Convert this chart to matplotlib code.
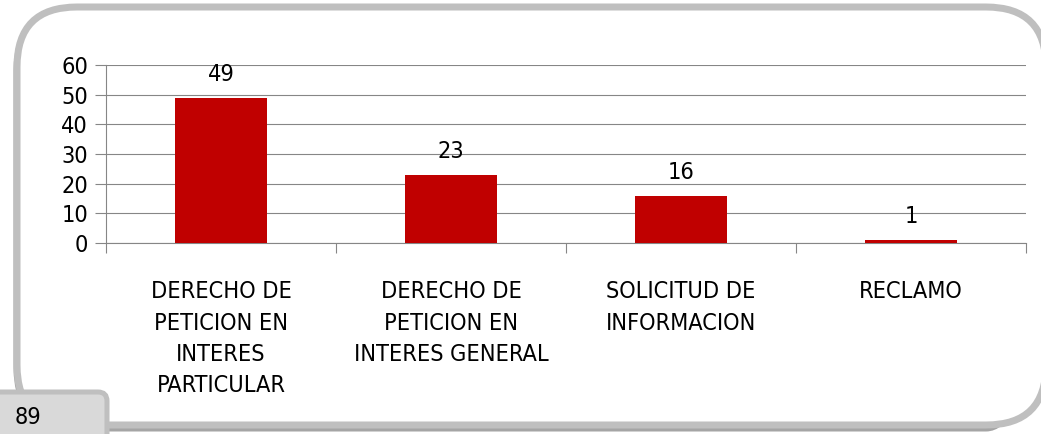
import matplotlib
matplotlib.use("Agg")
import matplotlib.pyplot as plt
from matplotlib.patches import FancyBboxPatch

categorias = ['DERECHO DE\nPETICION EN\nINTERES\nPARTICULAR',
              'DERECHO DE\nPETICION EN\nINTERES GENERAL',
              'SOLICITUD DE\nINFORMACION',
              'RECLAMO']
valores = [49, 23, 16, 1]
ticks_y = [0, 10, 20, 30, 40, 50, 60]
total = '89'

plt.rcParams['font.family'] = ['DejaVu Sans']
plt.rcParams['font.stretch'] = 'condensed'
tam = 16.8

fig = plt.figure(figsize=(10.41, 4.34), dpi=100)
px = 72 / 100  # puntos por pixel

# capa de fondo en pixeles para el marco redondeado
bg = fig.add_axes([0, 0, 1, 1])
bg.set_xlim(0, 1041)
bg.set_ylim(434, 0)
bg.axis('off')

sombra = FancyBboxPatch((17, 10), 1029, 418, boxstyle="round,pad=0,rounding_size=60",
                        fc='none', ec='#A5A5A5', lw=7 * px)
bg.add_patch(sombra)
marco = FancyBboxPatch((17, 7), 1029, 418, boxstyle="round,pad=0,rounding_size=60",
                       fc='white', ec='#BFBFBF', lw=7 * px)
bg.add_patch(marco)
pestana = FancyBboxPatch((-20, 392), 127, 60, boxstyle="round,pad=0,rounding_size=9",
                         fc='#D9D9D9', ec='#BFBFBF', lw=5 * px)
bg.add_patch(pestana)
bg.text(15, 417, total, fontsize=tam, va='center', ha='left', color='black')

# grafico de barras
ax = fig.add_axes([106 / 1041, 191 / 434, 920 / 1041, 178 / 434])
ax.patch.set_alpha(0)
x = range(len(valores))
barras = ax.bar(x, valores, width=0.4, color='#C00000', zorder=3)
ax.set_xlim(-0.5, len(valores) - 0.5)
ax.set_ylim(0, 60)
ax.set_yticks(ticks_y)
ax.tick_params(axis='y', labelsize=tam, length=8, color='#868686', width=0.8, pad=5)
ax.grid(axis='y', color='#868686', lw=0.8, zorder=0)

ax.set_xticks([i - 0.5 for i in range(len(valores) + 1)])
ax.set_xticklabels([])
ax.set_xticks(list(x), minor=True)
ax.set_xticklabels(categorias, minor=True, fontsize=tam, linespacing=1.45)
ax.tick_params(axis='x', which='major', length=7, color='#868686', width=0.8)
ax.tick_params(axis='x', which='minor', length=0, pad=27)

for s in ['top', 'right']:
    ax.spines[s].set_visible(False)
for s in ['left', 'bottom']:
    ax.spines[s].set_color('#868686')
    ax.spines[s].set_linewidth(0.8)

for b, v in zip(barras, valores):
    ax.annotate(str(v), (b.get_x() + b.get_width() / 2, v), xytext=(0, 8.5),
                textcoords='offset points', ha='center', va='bottom', fontsize=tam)

fig.savefig('out.png', dpi=100)
